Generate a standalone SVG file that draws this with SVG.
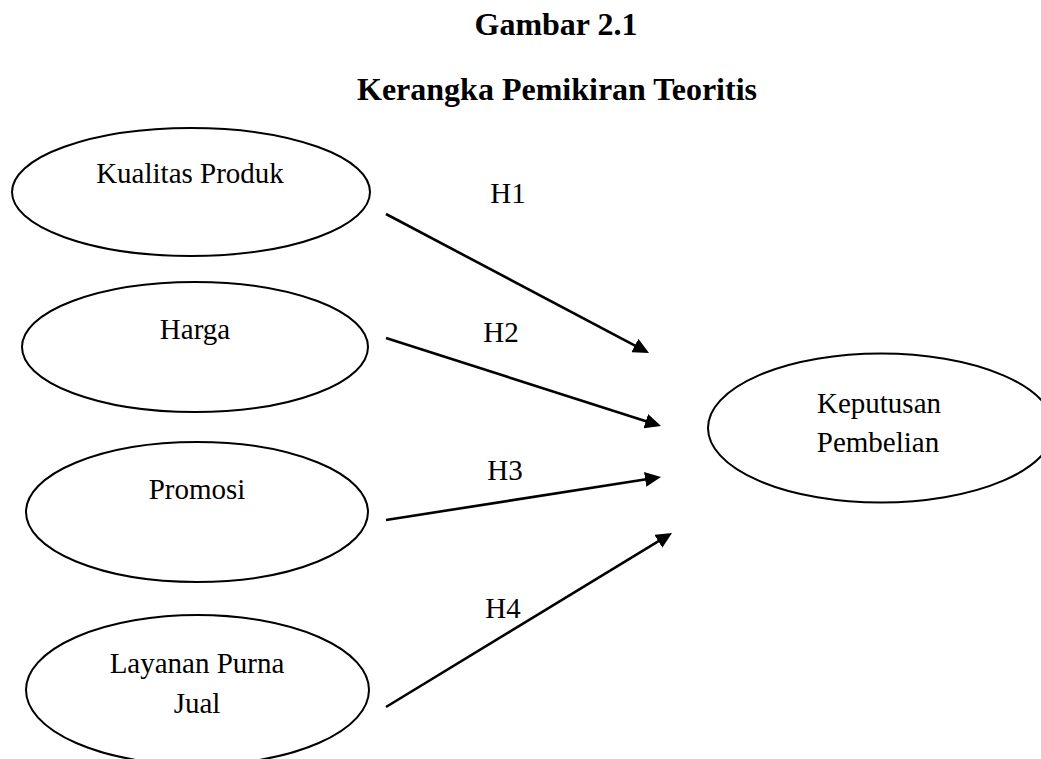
<svg xmlns="http://www.w3.org/2000/svg" width="1041" height="759" viewBox="0 0 1041 759">
<style>
  .node ellipse { fill: #ffffff; stroke: #000000; stroke-width: 2; }
  .lbl { font-family: "Liberation Serif", "Times New Roman", serif; font-size: 29px; fill: #000000; text-anchor: middle; }
  .title { font-family: "Liberation Serif", "Times New Roman", serif; font-size: 32px; font-weight: bold; fill: #000000; text-anchor: middle; }
  .conn line { stroke: #000000; stroke-width: 2.6; marker-end: url(#arrow); }
</style>
<defs>
  <marker id="arrow" markerUnits="userSpaceOnUse" markerWidth="16" markerHeight="15" viewBox="0 0 16 15" refX="6" refY="7.5" orient="auto">
    <path d="M0,0 L16,7.5 L0,15 Z" fill="#000000"/>
  </marker>
</defs>
<rect width="1041" height="759" fill="#ffffff"/>
<g id="title">
  <text class="title" x="556" y="35">Gambar 2.1</text>
  <text class="title" x="557" y="100">Kerangka Pemikiran Teoritis</text>
</g>
<g id="kualitas-produk" class="node">
  <ellipse cx="191" cy="192" rx="179" ry="64"/>
  <text class="lbl" x="190" y="183">Kualitas Produk</text>
</g>
<g id="harga" class="node">
  <ellipse cx="195" cy="347" rx="173" ry="65"/>
  <text class="lbl" x="195" y="339">Harga</text>
</g>
<g id="promosi" class="node">
  <ellipse cx="197" cy="512" rx="171" ry="70"/>
  <text class="lbl" x="197" y="499">Promosi</text>
</g>
<g id="layanan-purna-jual" class="node">
  <ellipse cx="197.5" cy="690" rx="171.5" ry="75"/>
  <text class="lbl" x="197" y="673">Layanan Purna</text>
  <text class="lbl" x="197" y="713">Jual</text>
</g>
<g id="keputusan-pembelian" class="node">
  <ellipse cx="881" cy="428" rx="173" ry="74.5"/>
  <text class="lbl" x="879" y="413">Keputusan</text>
  <text class="lbl" x="878" y="452">Pembelian</text>
</g>
<g id="connectors" class="conn">
  <line x1="386" y1="214" x2="640.2" y2="348.3"/>
  <line x1="386" y1="338" x2="651.5" y2="423"/>
  <line x1="386" y1="520" x2="651.1" y2="478.5"/>
  <line x1="386" y1="707" x2="663.5" y2="538.2"/>
</g>
<g id="connector-labels">
  <text class="lbl" x="508" y="203">H1</text>
  <text class="lbl" x="501" y="342">H2</text>
  <text class="lbl" x="505" y="480">H3</text>
  <text class="lbl" x="503" y="618">H4</text>
</g>
</svg>
